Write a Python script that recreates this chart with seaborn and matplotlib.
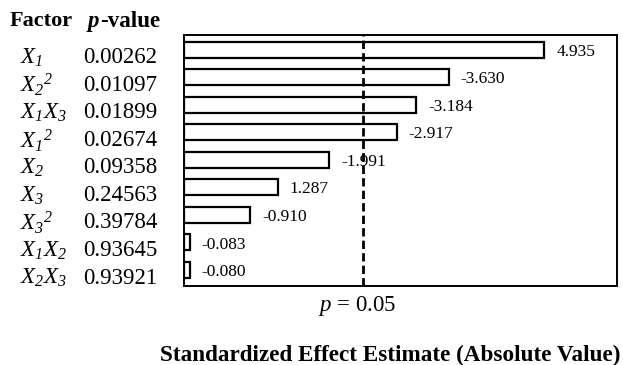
import numpy as np
import pandas as pd
import matplotlib
matplotlib.use("Agg")
import matplotlib.pyplot as plt
import matplotlib.transforms as mtransforms
import seaborn as sns

### Pareto chart data
factors = [r'$X_{1}$', r'$X_{2}{}^{2}$', r'$X_{1}X_{3}$', r'$X_{1}{}^{2}$', r'$X_{2}$',
           r'$X_{3}$', r'$X_{3}{}^{2}$', r'$X_{1}X_{2}$', r'$X_{2}X_{3}$']
p_values = ['0.00262', '0.01097', '0.01899', '0.02674', '0.09358',
            '0.24563', '0.39784', '0.93645', '0.93921']
effects = [4.935, -3.630, -3.184, -2.917, -1.991, 1.287, -0.910, -0.083, -0.080]
t_crit = 2.447  ### p = 0.05 reference line

df = pd.DataFrame({'factor': factors, 'pval': p_values, 'effect': effects})
df['abs_effect'] = df['effect'].abs()

sns.set_style('white')
plt.rcParams['font.family'] = ['Liberation Serif', 'DejaVu Serif']
plt.rcParams['text.color'] = 'black'
plt.rcParams['mathtext.fontset'] = 'custom'
plt.rcParams['mathtext.rm'] = 'Liberation Serif:italic'   ### italic digits in subscripts
plt.rcParams['mathtext.it'] = 'Liberation Serif:italic'
plt.rcParams['mathtext.bf'] = 'Liberation Serif:bold'
plt.rcParams['mathtext.default'] = 'it'

fig = plt.figure(figsize=(6.23, 3.65), dpi=100)
ax = fig.add_axes([0.2953, 0.2164, 0.6951, 0.6877])

sns.barplot(data=df, x='abs_effect', y='factor', order=factors, orient='h',
            color='white', edgecolor='black', linewidth=1.6, width=0.58, ax=ax)

ax.set_xlim(0, 5.93)
ax.set_ylim(8.58, -0.53)
ax.axvline(t_crit, color='black', lw=2, ls=(0, (3, 1.5)))

for spine in ax.spines.values():
    spine.set_color('black')
    spine.set_linewidth(1.4)

### bar value labels (signed effects)
for i, row in df.iterrows():
    ax.annotate(f"{row['effect']:.3f}", xy=(row['abs_effect'], i), xytext=(8.5, -1.5),
                textcoords='offset points', va='center', ha='left', fontsize=12.5)

ax.set_xticks([])
ax.set_yticks([])
ax.set_ylabel('')
ax.set_xlabel('')

### p = 0.05 label under the dashed line
ax.annotate(r'$p$ = 0.05', xy=(t_crit, 0), xycoords=('data', 'axes fraction'),
            xytext=(-4.3, -14.5), textcoords='offset points',
            ha='center', va='center', fontsize=16.5)

### left side table: factor and p-value
trans = mtransforms.blended_transform_factory(fig.transFigure, ax.transData)
trans = mtransforms.offset_copy(trans, fig=fig, y=-8, units='dots')
for i in range(len(factors)):
    ax.text(0.032, i, factors[i], transform=trans, ha='left', va='center', fontsize=16.5)
    ax.text(0.133, i, p_values[i], transform=trans, ha='left', va='center', fontsize=16.5)

fig.text(0.016, 0.942, 'Factor', fontsize=16, fontweight='bold', va='center', ha='left')
fig.text(0.141, 0.942, 'p', fontsize=16.5, fontweight='bold', style='italic', va='center', ha='left')
fig.text(0.161, 0.942, '-value', fontsize=16.5, fontweight='bold', va='center', ha='left')

fig.text(0.257, 0.027, 'Standardized Effect Estimate (Absolute Value)',
         fontsize=16.7, fontweight='bold', va='center', ha='left')

fig.savefig('out.png', dpi=100)
